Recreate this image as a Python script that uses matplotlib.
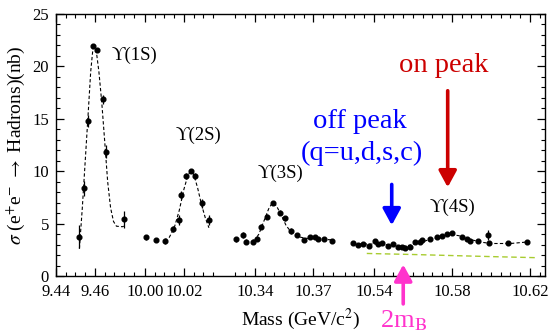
import numpy as np
import matplotlib
matplotlib.use('Agg')
import matplotlib.pyplot as plt

plt.rcParams['font.family'] = ['Liberation Serif', 'DejaVu Serif']
plt.rcParams['mathtext.fontset'] = 'stix'

# --- data (mass in GeV, sigma in nb) ---
m1s = [9.4520, 9.4542, 9.4563, 9.4591, 9.4609, 9.4640, 9.4656, 9.4749]
s1s = [3.75, 8.37, 14.8, 21.95, 21.6, 16.85, 11.86, 5.41]
e1s = [1.1, 0.7, 0.6, 0.2, 0.2, 0.45, 0.6, 0.8]
fit1m = [9.4520, 9.4535, 9.4545, 9.4555, 9.4565, 9.4578, 9.4590, 9.4605, 9.4620,
         9.4635, 9.4650, 9.4665, 9.4680, 9.4695, 9.4710, 9.4740, 9.4748]
fit1s = [2.6, 6.5, 9.5, 12.5, 15.5, 19.5, 21.8, 21.7, 19.5,
         16.5, 12.8, 9.0, 6.5, 5.2, 4.75, 4.7, 4.75]

m2s = [10.0005, 10.0056, 10.0103, 10.0142, 10.0176, 10.0185, 10.0210, 10.0234,
       10.0258, 10.0291, 10.0328]
s2s = [3.69, 3.43, 3.34, 4.45, 5.34, 7.73, 9.54, 10.02, 9.54, 6.93, 5.34]
e2s = [0.25, 0.2, 0.25, 0.3, 0.45, 0.35, 0.25, 0.2, 0.25, 0.4, 0.45]
fit2m = [10.0100, 10.0125, 10.0150, 10.0175, 10.0200, 10.0220, 10.0235, 10.0250,
         10.0270, 10.0290, 10.0310, 10.0328]
fit2s = [3.35, 3.7, 4.6, 6.2, 8.3, 9.6, 10.0, 9.7, 8.4, 6.8, 5.5, 4.6]

m3s = [10.3303, 10.3337, 10.3354, 10.3388, 10.3409, 10.3431, 10.3460, 10.3491,
       10.3528, 10.3554, 10.3585, 10.3614, 10.3651, 10.3682, 10.3708, 10.3725,
       10.3754, 10.3793]
s3s = [3.5, 3.91, 3.27, 3.27, 3.5, 4.7, 5.66, 7.0, 6.04, 5.5, 4.29, 3.91,
       3.43, 3.69, 3.69, 3.5, 3.5, 3.37]
e3s = [0.25, 0.3, 0.25, 0.25, 0.2, 0.25, 0.25, 0.2, 0.25, 0.25, 0.25, 0.2,
       0.2, 0.2, 0.2, 0.2, 0.2, 0.2]
fit3m = [10.3395, 10.3420, 10.3445, 10.3470, 10.3490, 10.3510, 10.3535, 10.3560,
         10.3590, 10.3620, 10.3660, 10.3720, 10.3790]
fit3s = [3.3, 4.0, 5.2, 6.4, 7.0, 6.7, 5.8, 4.8, 4.1, 3.75, 3.6, 3.55, 3.45]

m4s = [10.5294, 10.5319, 10.5345, 10.5374, 10.5405, 10.5422, 10.5443, 10.5473,
       10.5499, 10.5522, 10.5542, 10.5559, 10.5585, 10.5610, 10.5636, 10.5648,
       10.5687, 10.5722, 10.5747, 10.5773, 10.5798, 10.5850, 10.5875, 10.5892,
       10.5935, 10.5986, 10.5990, 10.6089, 10.6183]
s4s = [3.12, 2.96, 3.02, 2.9, 3.34, 3.02, 3.12, 2.9, 3.02, 2.8, 2.74, 2.64,
       2.8, 3.27, 3.27, 3.43, 3.53, 3.75, 3.85, 4.0, 4.07, 3.75, 3.53, 3.34,
       3.34, 3.91, 3.12, 3.12, 3.22]
e4s = [0.12] * 25 + [0.5, 0.15, 0.15, 0.2]
fit4m = [10.5290, 10.5400, 10.5500, 10.5560, 10.5620, 10.5680, 10.5750, 10.5800,
         10.5850, 10.5900, 10.5960, 10.6000, 10.6100, 10.6190]
fit4s = [3.05, 3.05, 2.95, 2.85, 3.1, 3.45, 3.8, 3.95, 3.8, 3.45, 3.2, 3.1, 3.1, 3.25]

cont_m = [10.5363, 10.5600, 10.5800, 10.6000, 10.6227]
cont_s = [2.15, 2.05, 1.95, 1.85, 1.75]

major_ticks = [9.44, 9.46, 10.00, 10.02, 10.34, 10.37, 10.54, 10.58, 10.62]
tick_labels = ['9.44', '9.46', '10.00', '10.02', '10.34', '10.37', '10.54', '10.58', '10.62']

# broken mass axis: each piece keeps the same GeV scale
segs = [(9.44, 9.4831, 9.44, 0.0), (9.9975, 10.0405, 10.00, 0.04564),
        (10.3241, 10.3846, 10.34, 0.10205), (10.5236, 10.6277, 10.54, 0.16308)]
M, U = [], []
for s, e, a, ua in segs:
    M += [s, e]
    U += [ua + s - a, ua + e - a]
M = np.array(M)
U = np.array(U)


def fwd(x):
    return np.interp(x, M, U)


def inv(u):
    return np.interp(u, U, M)


fig = plt.figure(figsize=(5.5, 3.36), dpi=100)
ax = fig.add_axes([0.1018, 0.1786, 0.8891, 0.7798])
ax.set_xscale('function', functions=(fwd, inv))
ax.set_xlim(9.44, 10.6277)
ax.set_ylim(0, 25)

for mm, ss in [(fit1m, fit1s), (fit2m, fit2s), (fit3m, fit3s), (fit4m, fit4s)]:
    ax.plot(mm, ss, color='black', lw=0.8, dashes=(3, 2))
ax.plot(cont_m, cont_s, color='#a8cc30', lw=1.0, dashes=(4, 2.5))
for mm, ss, ee in [(m1s, s1s, e1s), (m2s, s2s, e2s), (m3s, s3s, e3s), (m4s, s4s, e4s)]:
    ax.errorbar(mm, ss, yerr=ee, fmt='o', color='black', ms=3.4, lw=0.9, capsize=0)

ax.set_xticks(major_ticks)
ax.set_xticklabels(tick_labels)
minor = []
for a, b in [(9.44, 9.48), (10.00, 10.035), (10.33, 10.38), (10.525, 10.625)]:
    minor += list(np.arange(a, b + 1e-6, 0.005))
ax.set_xticks(minor, minor=True)
ax.set_yticks([0, 5, 10, 15, 20, 25])
ax.set_yticks(np.arange(0, 26, 1), minor=True)
ax.tick_params(which='both', direction='in', top=True, right=True, labelsize=12)
ax.tick_params(axis='x', which='major', pad=6)
ax.tick_params(axis='y', which='major', pad=5)
ax.tick_params(which='major', length=6, width=0.9)
ax.tick_params(which='minor', length=3, width=0.8)
for sp in ax.spines.values():
    sp.set_linewidth(1.0)

ax.set_ylabel(r'$\sigma$ (e$^{+}$e$^{-}$ $\rightarrow$ Hadrons)(nb)', fontsize=14, labelpad=4)
ax.set_xlabel(r'Mass (GeV/c$^{2}$)', fontsize=14, labelpad=5)

ax.text(9.4803, 21.1, 'ϒ(1S)', fontsize=13.5, ha='center', va='center')
ax.text(10.0272, 13.45, 'ϒ(2S)', fontsize=13.5, ha='center', va='center')
ax.text(10.3531, 9.83, 'ϒ(3S)', fontsize=13.5, ha='center', va='center')
ax.text(10.5803, 6.58, 'ϒ(4S)', fontsize=13.5, ha='center', va='center')

ax.text(10.5758, 20.1, 'on peak', fontsize=20.5, color='#cc0000', ha='center', va='center')
ax.text(10.533, 14.7, 'off peak', fontsize=20.5, color='#0000ff', ha='center', va='center')
ax.text(10.5336, 11.74, '(q=u,d,s,c)', fontsize=20.5, color='#0000ff', ha='center', va='center')
ax.text(10.5554, -4.3, r'2m$_{\mathrm{B}}$', fontsize=19, color='#ff33cc',
        ha='center', va='center', clip_on=False)

arrow = '-|>,head_length=0.55,head_width=0.3'
ax.annotate('', xy=(10.5778, 8.2), xytext=(10.5778, 17.94),
            arrowprops=dict(arrowstyle=arrow, color='#cc0000', lw=2.6, mutation_scale=18))
ax.annotate('', xy=(10.5491, 4.58), xytext=(10.5491, 9.0),
            arrowprops=dict(arrowstyle=arrow, color='#0000ff', lw=2.6, mutation_scale=18))
ax.annotate('', xy=(10.555, 1.36), xytext=(10.555, -2.93), annotation_clip=False,
            arrowprops=dict(arrowstyle=arrow, color='#ff33cc', lw=2.6, mutation_scale=18))

plt.savefig('out.png', dpi=100)
